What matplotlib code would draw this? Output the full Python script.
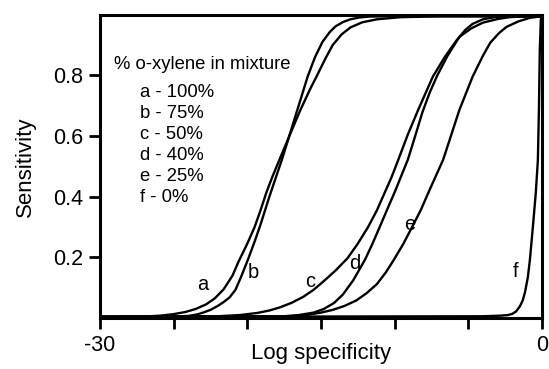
import matplotlib
matplotlib.use("Agg")
import matplotlib.pyplot as plt

plt.rcParams['font.family'] = ['Liberation Sans', 'DejaVu Sans']

# sensitivity vs log specificity for each o-xylene fraction
a_x = [-30, -27, -25.9, -25.0, -24.2, -23.5, -22.8, -22.2, -21.6, -21.0, -20.6, -20.0, -19.5, -19.1,
       -18.7, -18.3, -17.9, -17.1, -16.4, -15.75, -15.3, -14.7, -14.2, -13.6, -13.0, -12.2, -11.2,
       -9.6, -7.0, 0]
a_y = [0.004, 0.005, 0.008, 0.013, 0.020, 0.030, 0.045, 0.065, 0.095, 0.140, 0.185, 0.245, 0.300, 0.355,
       0.414, 0.465, 0.512, 0.605, 0.685, 0.753, 0.796, 0.855, 0.900, 0.935, 0.958, 0.975, 0.985,
       0.992, 0.995, 0.995]

b_x = [-30, -25, -24.0, -23.4, -23.0, -22.5, -22.0, -21.6, -21.2, -20.8, -20.4, -19.95, -19.5, -19.1,
       -18.5, -17.65, -17.2, -16.6, -15.9, -15.4, -14.9, -14.4, -14.0, -13.5, -13.0, -12.4, -11.7,
       -10.5, 0]
b_y = [0.004, 0.005, 0.007, 0.012, 0.018, 0.027, 0.040, 0.053, 0.068, 0.093, 0.138, 0.193, 0.252, 0.308,
       0.400, 0.522, 0.592, 0.686, 0.796, 0.860, 0.910, 0.943, 0.962, 0.976, 0.985, 0.991, 0.994,
       0.995, 0.995]

c_x = [-30, -22.0, -20.5, -19.3, -18.5, -17.8, -17.0, -16.2, -15.5, -14.8, -14.0, -13.2, -12.5, -11.8,
       -11.2, -10.7, -10.2, -9.8, -9.1, -8.4, -7.4, -6.6, -5.8, -5.2, -4.7, -4.0, -3.2, -2.0, 0]
c_y = [0.004, 0.006, 0.010, 0.017, 0.025, 0.035, 0.050, 0.070, 0.093, 0.122, 0.157, 0.197, 0.245, 0.300,
       0.355, 0.410, 0.465, 0.515, 0.605, 0.686, 0.796, 0.860, 0.915, 0.950, 0.970, 0.985, 0.992, 0.995,
       0.995]

d_x = [-30, -17.5, -16.5, -15.5, -14.8, -14.1, -13.5, -12.8, -12.0, -11.5, -11.0, -10.5, -10.0, -9.1,
       -8.6, -8.1, -7.6, -7.1, -6.4, -5.6, -4.8, -4.0, -3.0, -2.2, -1.0, 0]
d_y = [0.004, 0.006, 0.010, 0.018, 0.030, 0.050, 0.078, 0.125, 0.193, 0.245, 0.301, 0.358, 0.414, 0.522,
       0.600, 0.680, 0.745, 0.800, 0.865, 0.927, 0.955, 0.974, 0.986, 0.992, 0.995, 0.995]

e_x = [-30, -17.0, -16.0, -15.0, -14.2, -13.4, -12.6, -11.9, -11.2, -10.6, -10.1, -9.4, -8.8, -8.2,
       -7.7, -6.7, -5.6, -4.7, -4.0, -3.5, -2.9, -2.4, -1.6, -0.8, 0]
e_y = [0.004, 0.006, 0.010, 0.018, 0.027, 0.040, 0.058, 0.082, 0.112, 0.150, 0.188, 0.245, 0.301, 0.358,
       0.414, 0.522, 0.686, 0.796, 0.865, 0.908, 0.940, 0.960, 0.978, 0.990, 0.995]

f_x = [-30, -4.0, -2.8, -2.3, -2.0, -1.75, -1.5, -1.3, -1.15, -0.95, -0.81, -0.61, -0.41, -0.27,
       -0.20, -0.14, -0.07, 0]
f_y = [0.004, 0.006, 0.008, 0.010, 0.014, 0.022, 0.038, 0.058, 0.084, 0.135, 0.193, 0.301, 0.414, 0.522,
       0.686, 0.885, 0.984, 0.995]

curves = [(a_x, a_y), (b_x, b_y), (c_x, c_y), (d_x, d_y), (e_x, e_y), (f_x, f_y)]

curve_names = ['a', 'b', 'c', 'd', 'e', 'f']
label_x = [-23.0, -19.6, -15.7, -12.7, -9.0, -1.8]
label_y = [0.11, 0.15, 0.12, 0.18, 0.31, 0.155]

legend_title = '% o-xylene in mixture'
legend_lines = ['a - 100%', 'b - 75%', 'c - 50%', 'd - 40%', 'e - 25%', 'f - 0%']

fig = plt.figure(figsize=(5.49, 3.69), dpi=100)
ax = fig.add_axes([0.182, 0.138, 0.805, 0.822])

for x, y in curves:
    ax.plot(x, y, color='black', lw=1.7, solid_joinstyle='round', solid_capstyle='round')

for name, lx, ly in zip(curve_names, label_x, label_y):
    ax.text(lx, ly, name, fontsize=14.5, ha='center', va='center')

ax.text(-29.05, 0.835, legend_title, fontsize=13.3, va='center')
for i, line in enumerate(legend_lines):
    ax.text(-27.3, 0.743 - i * 0.0692, line, fontsize=13.3, va='center')

ax.set_xlim(-30, 0)
ax.set_ylim(0, 1.0)
ax.set_xticks([-30, -25, -20, -15, -10, -5, 0])
ax.set_xticklabels(['-30', '', '', '', '', '', '0'])
ax.set_yticks([0.2, 0.4, 0.6, 0.8])
ax.set_yticklabels(['0.2', '0.4', '0.6', '0.8'])
ax.tick_params(direction='out', length=8, width=2, labelsize=15.5, pad=4)

for s in ax.spines.values():
    s.set_linewidth(2.2)

ax.set_xlabel('Log specificity', fontsize=16, labelpad=-9)
ax.set_ylabel('Sensitivity', fontsize=16, labelpad=12)

fig.savefig('out.png', dpi=100)
